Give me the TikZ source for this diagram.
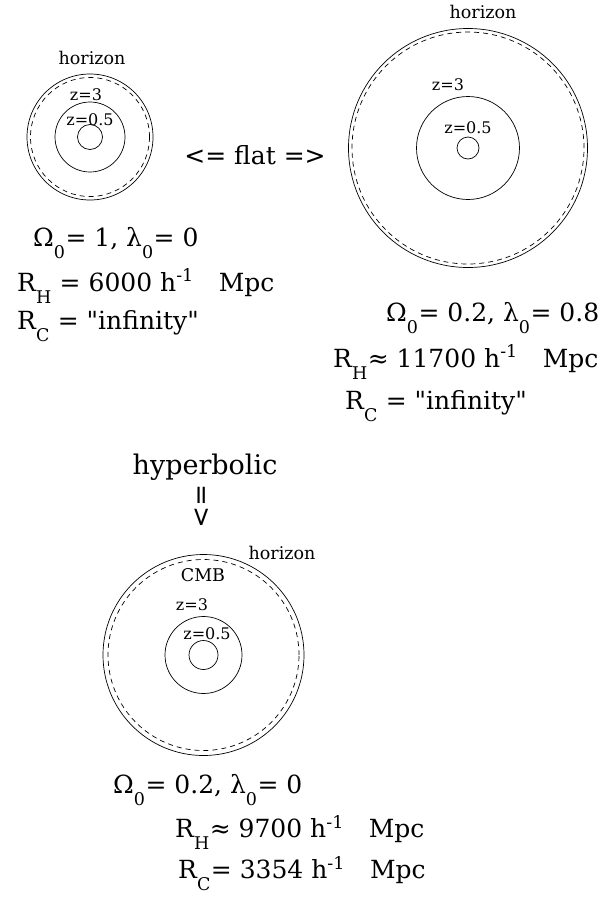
\documentclass[tikz,border=0pt]{standalone}
\usepackage{fontspec}
\setmainfont{DejaVu Serif}
\setsansfont{DejaVu Sans}
\usepackage{tikz}
\usetikzlibrary{positioning}
\tikzset{
  rim/.style     = {draw, line width=0.7pt},
  cmbrim/.style  = {draw, line width=0.7pt, dash pattern=on 5pt off 4pt},
  zlbl/.style    = {inner sep=0pt, font=\fontsize{16}{18}\selectfont},
  hlbl/.style    = {inner sep=0pt, font=\fontsize{17.5}{20}\selectfont},
  par/.style     = {inner sep=0pt, anchor=west, font=\fontsize{25}{30}\selectfont},
  geom/.style    = {inner sep=0pt, font=\fontsize{25}{30}\selectfont},
}
\newcommand{\sub}[1]{\raisebox{-0.6ex}{\textsubscript{#1}}}
\newcommand{\hinv}{h\textsuperscript{-1}}
\newcommand{\qt}{\textquotedbl}

\begin{document}
\begin{tikzpicture}[x=1pt,y=-1pt]
  \useasboundingbox (0,0) rectangle (610,900);

  % flat, Omega=1
  \coordinate (cA) at (90,137);
  \draw[rim] (cA) circle (63pt);
  \draw[cmbrim] (cA) circle (59.5pt);
  \draw[rim] (cA) circle (35pt);
  \draw[rim] (cA) circle (12.5pt);
  \node[hlbl] (hA) at (92,58) {horizon};
  \node[zlbl] (zA3) at (86,95) {z=3};
  \node[zlbl] (zA05) at (90,120) {z=0.5};
  \node[par] (omA) at (33,243) {Ω\sub{0}= 1, λ\sub{0}= 0};
  \node[par] (rhA) at (17,286) {R\sub{H} = 6000 \hinv\quad Mpc};
  \node[par] (rcA) at (17,326) {R\sub{C} = \qt infinity\qt};

  \node[geom] (flat) at (255,155) {{\sffamily<=} flat {\sffamily=>}};

  % flat, Omega=0.2 + lambda
  \coordinate (cB) at (468,148);
  \draw[rim] (cB) circle (119.5pt);
  \draw[cmbrim] (cB) circle (116pt);
  \draw[rim] (cB) circle (51.5pt);
  \draw[rim] (cB) circle (11pt);
  \node[hlbl] (hB) at (483,12) {horizon};
  \node[zlbl] (zB3) at (448,85) {z=3};
  \node[zlbl] (zB05) at (468,128) {z=0.5};
  \node[par] (omB) at (386,318) {Ω\sub{0}= 0.2, λ\sub{0}= 0.8};
  \node[par] (rhB) at (333,362) {R\sub{H}≈ 11700 \hinv\quad Mpc};
  \node[par] (rcB) at (345,406) {R\sub{C} = \qt infinity\qt};

  \node[geom, font=\fontsize{27}{30}\selectfont] (hyp) at (205,467) {hyperbolic};
  \node[geom, rotate=-90, font=\fontsize{26}{28}\selectfont\sffamily] (down) at (201,506) {=>};

  % open, Omega=0.2
  \coordinate (cC) at (203.5,655);
  \draw[rim] (cC) circle (100.5pt);
  \draw[cmbrim] (cC) circle (95.5pt);
  \draw[rim] (cC) circle (38.5pt);
  \draw[rim] (cC) circle (14.5pt);
  \node[hlbl] (hC) at (282,553) {horizon};
  \node[hlbl] (cmb) at (203,575) {CMB};
  \node[zlbl] (zC3) at (192,605) {z=3};
  \node[zlbl] (zC05) at (207,634) {z=0.5};
  \node[par] (omC) at (113,790) {Ω\sub{0}= 0.2, λ\sub{0}= 0};
  \node[par] (rhC) at (175,832) {R\sub{H}≈ 9700 \hinv\quad Mpc};
  \node[par] (rcC) at (178,874) {R\sub{C}= 3354 \hinv\quad Mpc};
\end{tikzpicture}
\end{document}
